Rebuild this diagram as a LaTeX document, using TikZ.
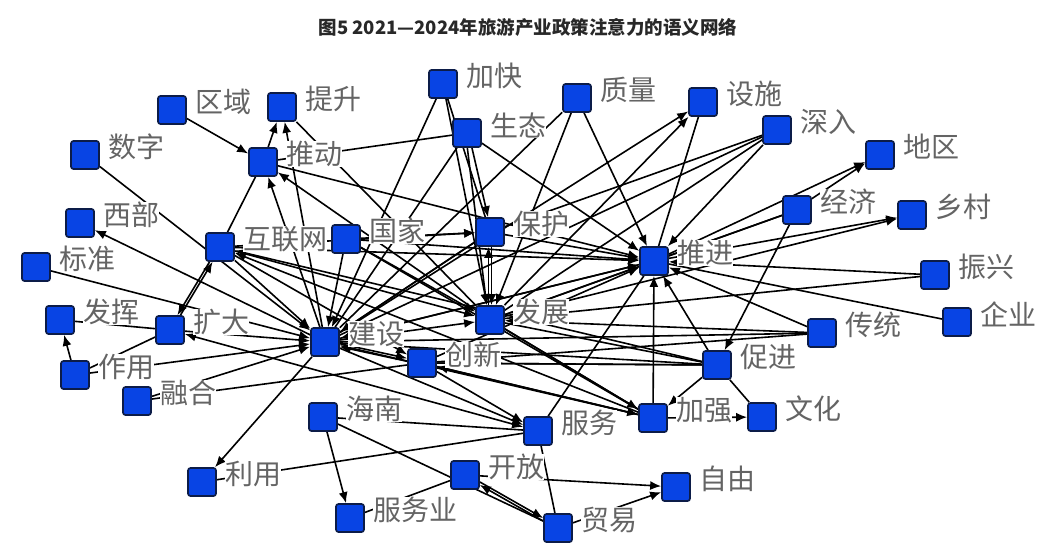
\documentclass[tikz,border=0pt]{standalone}
\usepackage{fontspec}
\setmainfont{Noto Sans CJK SC}
\usetikzlibrary{arrows.meta}
\pgfdeclarelayer{bg}
\pgfsetlayers{bg,main}
\definecolor{nodeblue}{RGB}{8,68,228}
\definecolor{nodeedge}{RGB}{12,28,72}
\definecolor{labgray}{RGB}{100,100,100}
\definecolor{titlegray}{RGB}{40,40,40}
\tikzset{
  sq/.style={draw=nodeedge, line width=1.7pt, fill=nodeblue, minimum size=28pt, inner sep=0pt, rounded corners=2.5pt},
  lab/.style={anchor=west, text=labgray, font=\fontsize{28}{28}\selectfont, fill=white, inner sep=0pt},
  ed/.style={line width=1.6pt, -{Latex[length=11pt,width=9pt]}},
  ln/.style={line width=1.6pt},
  bi/.style={line width=1.6pt, {Latex[length=11pt,width=9pt]}-{Latex[length=11pt,width=9pt]}},
  titlestyle/.style={text=titlegray, font=\bfseries\fontsize{18.5}{19}\selectfont, inner sep=0pt}
}
\newcommand\gnode[4]{\node[sq] (#1) at (#2,#3) {}; \node[lab] (#1l) at (#2+23,#3-8) {#4};}
\begin{document}
\begin{tikzpicture}[x=1pt,y=-1pt]
\useasboundingbox (0,0) rectangle (1064,554);
\node[titlestyle] (title) at (528,27) {图5 2021—2024年旅游产业政策注意力的语义网络};
% nodes
\gnode{qy}{172}{110}{区域}
\gnode{ts}{282}{107}{提升}
\gnode{sz}{85}{155}{数字}
\gnode{td}{263}{162}{推动}
\gnode{xb}{80}{223}{西部}
\gnode{bz}{36}{267}{标准}
\gnode{hlw}{220}{247}{互联网}
\gnode{gj}{346}{239}{国家}
\gnode{jk}{443}{84}{加快}
\gnode{st}{467}{133}{生态}
\gnode{zl}{577}{98}{质量}
\gnode{ss}{703}{102}{设施}
\gnode{sr}{777}{130}{深入}
\gnode{dq}{880}{155}{地区}
\gnode{jj}{797}{210}{经济}
\gnode{xc}{912}{215}{乡村}
\gnode{bh}{490}{232}{保护}
\gnode{tj}{654}{261}{推进}
\gnode{zx}{935}{275}{振兴}
\gnode{qyy}{957}{322}{企业}
\gnode{ct}{822}{333}{传统}
\gnode{fh}{60}{320}{发挥}
\gnode{kd}{170}{330}{扩大}
\gnode{js}{325}{342}{建设}
\gnode{fz}{490}{320}{发展}
\gnode{cx}{422}{363}{创新}
\gnode{cj}{717}{365}{促进}
\gnode{zy}{75}{375}{作用}
\gnode{rh}{137}{401}{融合}
\gnode{hn}{323}{417}{海南}
\gnode{fw}{538}{431}{服务}
\gnode{jq}{653}{418}{加强}
\gnode{wh}{762}{417}{文化}
\gnode{ly}{202}{482}{利用}
\gnode{kf}{465}{475}{开放}
\gnode{zyou}{676}{487}{自由}
\gnode{fwy}{350}{518}{服务业}
\gnode{my}{558}{528}{贸易}
% edges
\begin{pgfonlayer}{bg}
\draw[ed] (qy) -- (td);
\draw[ed] (td) -- (ts);
\draw[ed] (js) -- (ts);
\draw[ed] (sz) -- (js);
\draw[ed] (js) -- (xb);
\draw[ed] (bz) -- (js);
\draw[ed,transform canvas={xshift=1.5pt}] (kd) -- (hlw);
\draw[ed,transform canvas={xshift=-1.5pt}] (hlw) -- (kd);
\draw[ed] (zy) -- (fh);
\draw[ln] (fh) -- (kd);
\draw[ln] (zy) -- (kd);
\draw[ed] (zy) -- (js);
\draw[ed] (rh) -- (js);
\draw[ln] (rh) -- (cx);
\draw[ed] (kd) -- (js);
\draw[bi] (kd) -- (fw);
\draw[ed] (js) -- (ly);
\draw[ln] (ly) -- (fw);
\draw[ed] (hn) -- (fwy);
\draw[ln] (hn) -- (my);
\draw[ln] (hn) -- (fw);
\draw[ed,transform canvas={yshift=1.5pt}] (kf) -- (my);
\draw[ed,transform canvas={yshift=-1.5pt}] (my) -- (kf);
\draw[ed] (kf) -- (zyou);
\draw[ed] (my) -- (zyou);
\draw[ln] (fwy) -- (kf);
\draw[ln] (fw) -- (my);
\draw[ln] (hlw) -- (td);
\draw[ed] (js) -- (td);
\draw[ed] (fz) -- (td);
\draw[ln] (td) -- (st);
\draw[ed] (td) -- (tj);
\draw[ln] (ts) -- (fz);
\draw[ed] (hlw) -- (tj);
\draw[ed] (hlw) -- (js);
\draw[ed] (hlw) -- (fz);
\draw[ed] (hlw) -- (bh);
\draw[ed] (hlw) -- (cx);
\draw[ed] (jq) -- (hlw);
\draw[ed] (cj) -- (hlw);
\draw[ed] (gj) -- (bh);
\draw[ed] (gj) -- (tj);
\draw[ed] (gj) -- (js);
\draw[ed] (gj) -- (fz);
\draw[ln] (gj) -- (jq);
\draw[ed] (jk) -- (js);
\draw[ed] (jk) -- (fz);
\draw[ln] (jk) -- (bh);
\draw[ed,transform canvas={xshift=1.5pt}] (st) -- (bh);
\draw[ed,transform canvas={xshift=-1.5pt}] (st) -- (fz);
\draw[ed] (st) -- (tj);
\draw[ln] (st) -- (js);
\draw[ed] (zl) -- (fz);
\draw[ln] (zl) -- (js);
\draw[ed] (zl) -- (tj);
\draw[ed] (js) -- (ss);
\draw[ed] (fz) -- (ss);
\draw[ln] (ss) -- (tj);
\draw[ln] (sr) -- (bh);
\draw[ln] (sr) -- (js);
\draw[ln] (sr) -- (fz);
\draw[ed] (sr) -- (tj);
\draw[ed,transform canvas={yshift=1.5pt}] (jj) -- (dq);
\draw[ed] (tj) -- (dq);
\draw[ln] (jj) -- (tj);
\draw[ed] (jj) -- (cj);
\draw[ln] (fz) -- (jj);
\draw[ed] (tj) -- (xc);
\draw[ed] (fz) -- (xc);
\draw[ed] (zx) -- (tj);
\draw[ln] (zx) -- (fz);
\draw[ln] (qyy) -- (tj);
\draw[ed] (ct) -- (tj);
\draw[ed] (ct) -- (fz);
\draw[ln] (ct) -- (js);
\draw[ln] (ct) -- (cx);
\draw[ed] (cj) -- (tj);
\draw[ln] (cj) -- (cx);
\draw[ed] (cj) -- (jq);
\draw[ln] (cj) -- (wh);
\draw[ed] (jq) -- (wh);
\draw[ed] (jq) -- (tj);
\draw[ed] (jq) -- (cx);
\draw[ed] (jq) -- (js);
\draw[ln] (jq) -- (fz);
\draw[ln] (fw) -- (tj);
\draw[ed] (cx) -- (fw);
\draw[ed] (js) -- (fw);
\draw[ed] (cx) -- (tj);
\draw[ed] (cx) -- (jq);
\draw[ln] (cx) -- (cj);
\draw[ed,transform canvas={yshift=1.5pt}] (js) -- (cx);
\draw[ed,transform canvas={yshift=-1.5pt}] (cx) -- (js);
\draw[ed] (fz) -- (tj);
\draw[ed] (bh) -- (tj);
\draw[ed,transform canvas={xshift=1.5pt}] (bh) -- (fz);
\draw[ed,transform canvas={xshift=-1.5pt}] (fz) -- (bh);
\draw[ed] (js) -- (tj);
\draw[ed] (js) -- (fz);
\draw[ln] (js) -- (bh);
\draw[ed] (tj) -- (js);
\draw[ln] (cj) -- (js);
\draw[ln] (fz) -- (cj);
\draw[ed] (fz) -- (jq);
\draw[ed] (bh) -- (js);
\end{pgfonlayer}
\end{tikzpicture}
\end{document}
